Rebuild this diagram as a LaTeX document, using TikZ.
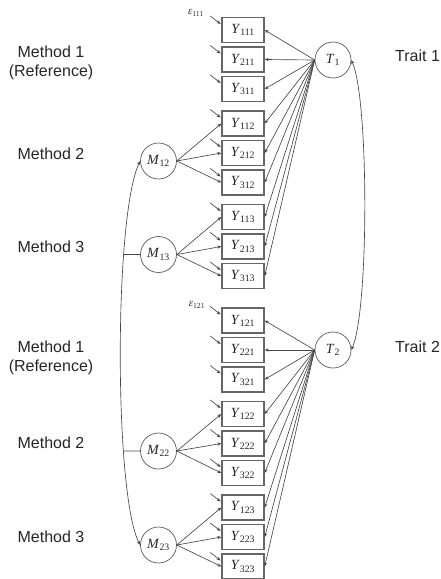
\documentclass[tikz,border=0pt]{standalone}
\usepackage{fontspec}
\setmainfont{Liberation Serif}
\newfontfamily\labfont{Liberation Sans}
\usetikzlibrary{arrows.meta,intersections}
\newcommand{\Yv}[1]{\textit{Y}\textsubscript{#1}}
\begin{document}
\begin{tikzpicture}[x=1pt,y=-1pt,
  ybox/.style={draw=black!60, line width=1.4pt, minimum width=42pt, minimum height=25pt, inner sep=0pt, fill=white, text=black!85, font=\fontsize{14}{14}\selectfont},
  lat/.style={circle, draw=black!65, line width=0.7pt, minimum size=36pt, inner sep=0pt, text=black!85, font=\fontsize{14}{14}\selectfont},
  lab/.style={font=\labfont\fontsize{16}{19}\selectfont, align=center, text=black!85, inner sep=0pt},
  eps/.style={font=\fontsize{11}{11}\selectfont, inner sep=0pt, text=black!80},
  tip/.tip={Stealth[length=4pt,width=3.2pt]},
  ln/.style={draw=black!72, line width=0.65pt},
  arr/.style={ln, -tip},
  darr/.style={ln, tip-tip},
]
\useasboundingbox (0,0) rectangle (441,579);

% observed variables with residual arrows
\foreach \n/\y in {111/30, 211/59.5, 311/89, 112/123.5, 212/153, 312/182.5, 113/217, 213/246.5, 313/276,
                   121/320.5, 221/350, 321/379.5, 122/414, 222/443.5, 322/473, 123/507.5, 223/537, 323/566.5} {
  \node[ybox] (Y\n) at (243,\y) {\Yv{\n}};
  \coordinate (e\n) at ([shift={(-11,-14)}]Y\n.west);
  \draw[arr] (e\n) -- ([shift={(-0.7,-6)}]Y\n.west);
}

% residual labels
\node[eps] (eps111) at (196,13) {\textit{ε}\textsubscript{111}};
\node[eps] (eps121) at (197,305) {\textit{ε}\textsubscript{121}};

% trait factors
\node[lat] (T1) at (333,60) {\textit{T}\textsubscript{1}};
\node[lat] (T2) at (333,350) {\textit{T}\textsubscript{2}};

% method factors
\node[lat] (M12) at (158.5,161) {\textit{M}\textsubscript{12}};
\node[lat] (M13) at (158.5,254.5) {\textit{M}\textsubscript{13}};
\node[lat] (M22) at (158.5,451) {\textit{M}\textsubscript{22}};
\node[lat] (M23) at (158.5,545) {\textit{M}\textsubscript{23}};

% trait loadings
\foreach \n in {111,211,311,112,212,312,113,213,313}
  \draw[arr] (T1.west) -- (Y\n.east);
\foreach \n in {121,221,321,122,222,322,123,223,323}
  \draw[arr] (T2.west) -- (Y\n.east);

% method loadings
\foreach \m/\a/\b/\c in {M12/112/212/312, M13/113/213/313, M22/122/222/322, M23/123/223/323} {
  \draw[arr] (\m.east) -- (Y\a.west);
  \draw[arr] (\m.east) -- (Y\b.west);
  \draw[arr] (\m.east) -- (Y\c.west);
}

% trait covariance
\draw[darr] (T1.east) .. controls (369,100) and (369,310) .. (T2.east);

% method covariances
\draw[darr, name path=cov] (M12.west) .. controls (114,215) and (114,495) .. (M23.west);
\path[name path=h13] (M13.west) -- ++(-60,0);
\path[name path=h22] (M22.west) -- ++(-60,0);
\path[name intersections={of=cov and h13, by=c13}];
\path[name intersections={of=cov and h22, by=c22}];
\draw[ln] (c13) -- (M13.west);
\draw[ln] (c22) -- (M22.west);

% labels
\node[lab] (m11) at (51,62.5) {Method 1\\(Reference)};
\node[lab] (m12) at (51,154) {Method 2};
\node[lab] (m13) at (51,247) {Method 3};
\node[lab] (m21) at (51,357.5) {Method 1\\(Reference)};
\node[lab] (m22) at (51,443) {Method 2};
\node[lab] (m23) at (51,537) {Method 3};
\node[lab, anchor=west] (tr1) at (395,56) {Trait 1};
\node[lab, anchor=west] (tr2) at (395,347) {Trait 2};
\end{tikzpicture}
\end{document}
